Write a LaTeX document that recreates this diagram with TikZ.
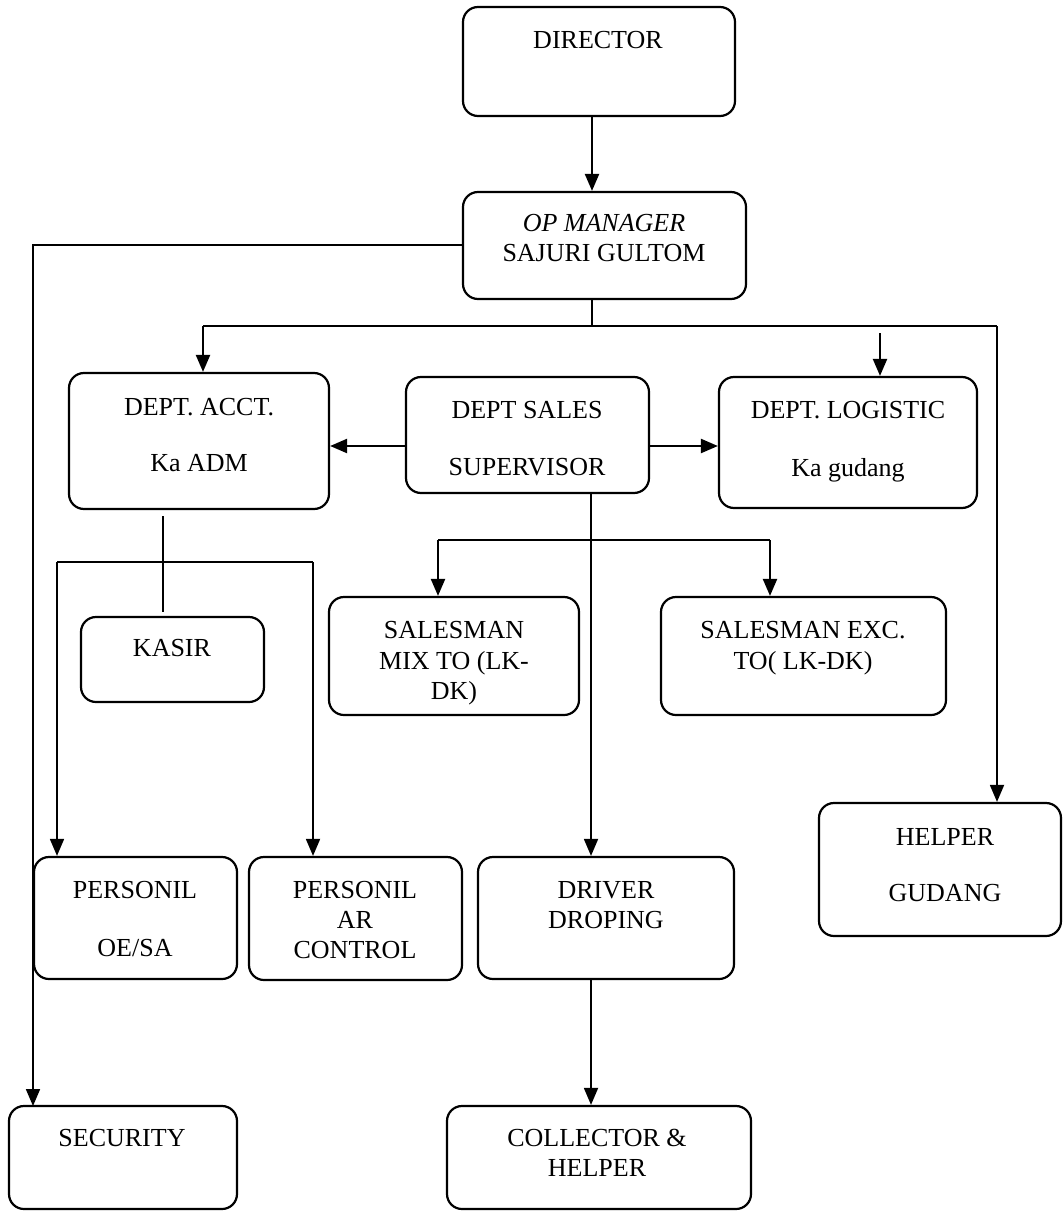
\documentclass[tikz,border=0pt]{standalone}
\usepackage{fontspec}
\setmainfont{Liberation Serif}
\usetikzlibrary{fit,arrows.meta}
\begin{document}
\begin{tikzpicture}[x=1pt,y=-1pt,
  box/.style={draw, line width=2.2pt, rounded corners=15pt, inner sep=0pt},
  txt/.style={inner sep=0pt, font=\fontsize{26}{30}\selectfont, text height=17.5pt, text depth=0pt},
  arr/.style={line width=2.2pt, -{Triangle[length=17pt,width=14pt]}},
  ln/.style={line width=2pt},
  thinln/.style={line width=1.4pt}]
\useasboundingbox (0,0) rectangle (1063,1212);

% boxes
\node[box, fit={(463,7) (735,116)}] (dir) {};
\node[box, fit={(463,192) (746,299)}] (op) {};
\node[box, fit={(69,373) (329,509)}] (acct) {};
\node[box, fit={(406,377) (649,493)}] (sales) {};
\node[box, fit={(719,377) (977,508)}] (logi) {};
\node[box, fit={(81,617) (264,702)}] (kasir) {};
\node[box, fit={(329,597) (579,715)}] (smix) {};
\node[box, fit={(661,597) (946,715)}] (sexc) {};
\node[box, fit={(34,857) (237,979)}] (poe) {};
\node[box, fit={(249,857) (462,980)}] (par) {};
\node[box, fit={(478,857) (734,979)}] (drv) {};
\node[box, fit={(819,803) (1061,936)}] (help) {};
\node[box, fit={(9,1106) (237,1209)}] (sec) {};
\node[box, fit={(447,1106) (751,1209)}] (coll) {};

% texts
\node[txt] (t1) at (598,40) {DIRECTOR};
\node[txt] (t2) at (604,223) {\itshape OP MANAGER};
\node[txt] (t3) at (604,253) {SAJURI GULTOM};
\node[txt] (t4) at (199,407) {DEPT. ACCT.};
\node[txt] (t5) at (199,463) {Ka ADM};
\node[txt] (t6) at (527,410) {DEPT SALES};
\node[txt] (t7) at (527,467) {SUPERVISOR};
\node[txt] (t8) at (848,410) {DEPT. LOGISTIC};
\node[txt] (t9) at (848,468) {Ka gudang};
\node[txt] (t10) at (172,648) {KASIR};
\node[txt] (t11) at (454,630) {SALESMAN};
\node[txt] (t12) at (454,661) {MIX TO (LK-};
\node[txt] (t13) at (454,691) {DK)};
\node[txt] (t14) at (803,630) {SALESMAN EXC.};
\node[txt] (t15) at (803,661) {TO( LK-DK)};
\node[txt] (t16) at (135,890) {PERSONIL};
\node[txt] (t17) at (135,948) {OE/SA};
\node[txt] (t18) at (355,890) {PERSONIL};
\node[txt] (t19) at (355,920) {AR};
\node[txt] (t20) at (355,950) {CONTROL};
\node[txt] (t21) at (606,890) {DRIVER};
\node[txt] (t22) at (606,920) {DROPING};
\node[txt] (t23) at (945,837) {HELPER};
\node[txt] (t24) at (945,893) {GUDANG};
\node[txt] (t25) at (122,1138) {SECURITY};
\node[txt] (t26) at (597,1138) {COLLECTOR \&};
\node[txt] (t27) at (597,1168) {HELPER};

% coordinates
\coordinate (secin) at (33,1106);
\coordinate (opl) at (463,245);
\coordinate (bus) at (592,326);
\coordinate (busL) at (203,326);
\coordinate (busR) at (997,326);
\coordinate (login) at (880,333);
\coordinate (ya) at (0,446);
\coordinate (sx) at (591,493);
\coordinate (brL) at (438,540);
\coordinate (brR) at (770,540);
\coordinate (acA) at (163,516);
\coordinate (acB) at (163,612);
\coordinate (bkL) at (57,562);
\coordinate (bkR) at (313,562);

% connectors
\draw[arr] (dir.south -| bus) -- (op.north -| bus);
\draw[arr, line width=1.8pt] (opl) -| (secin);
\draw[thinln] (op.south -| bus) -- (bus);
\draw[thinln] (busL) -- (busR);
\draw[arr] (busL) -- (acct.north -| busL);
\draw[arr] (login) -- (logi.north -| login);
\draw[arr, line width=1.8pt] (busR) -- (help.north -| busR);
\draw[arr] (sales.west |- ya) -- (acct.east |- ya);
\draw[arr] (sales.east |- ya) -- (logi.west |- ya);
\draw[arr, line width=1.8pt] (sx) -- (drv.north -| sx);
\draw[ln] (brL) -- (brR);
\draw[arr] (brL) -- (smix.north -| brL);
\draw[arr] (brR) -- (sexc.north -| brR);
\draw[thinln] (acA) -- (acB);
\draw[ln] (bkL) -- (bkR);
\draw[arr, line width=1.8pt] (bkL) -- (poe.north -| bkL);
\draw[arr, line width=1.8pt] (bkR) -- (par.north -| bkR);
\draw[arr, line width=1.8pt] (drv.south -| sx) -- (coll.north -| sx);
\end{tikzpicture}
\end{document}
